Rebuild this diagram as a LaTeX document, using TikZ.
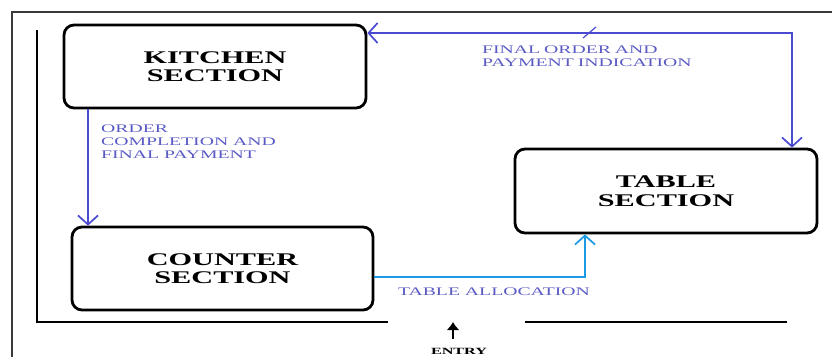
\documentclass[tikz,border=0pt]{standalone}
\usepackage{fontspec}
\setmainfont{Liberation Serif}
\newfontfamily\wideserif[FakeStretch=1.7]{Liberation Serif}
\usetikzlibrary{arrows.meta}
\definecolor{flowblue}{HTML}{4A4AD0}
\definecolor{noteblue}{HTML}{5A5AC4}
\definecolor{allocblue}{HTML}{1C9BE2}
\definecolor{framegray}{HTML}{3A3A3A}
\tikzset{
  section/.style={draw, line width=2.8pt, rounded corners=10pt, inner sep=0pt,
    align=center, font=\wideserif\bfseries\fontsize{17.8}{18.5}\selectfont},
  flow/.style={draw=flowblue, line width=1.7pt, -{Straight Barb[length=9pt,width=20pt]}},
  note/.style={text=noteblue, inner sep=0pt, align=left,
    font=\wideserif\fontsize{11.6}{13}\selectfont},
  wall/.style={line width=2.8pt, black}
}
\begin{document}
\begin{tikzpicture}[x=1pt,y=-1pt]
		\clip (0,0) rectangle (832,356);
		% outer frame and walls
		\draw[framegray, line width=1.3pt] (12,12) rectangle (860,380);
		\draw[wall] (37,30) -- (37,322) -- (388,322);
		\draw[wall] (525,322) -- (787,322);
		
		\node[section, minimum width=302pt, minimum height=83pt] (kitchen) at (215,66.5) {KITCHEN\\SECTION};
		\node[section, minimum width=301pt, minimum height=83pt] (counter) at (222.5,268.5) {COUNTER\\SECTION};
		\node[section, minimum width=302pt, minimum height=84pt] (table) at (666,191) {TABLE\\SECTION};
		
		\coordinate (kc) at (88,0);
		\coordinate (fo) at (792,33);
		\coordinate (ta) at (585,277);
		
		% kitchen to counter
		\draw[flow] (kc |- kitchen.south) -- (kc |- counter.north);
		\node[note, anchor=north west] (ordernote) at (101,124.5) {ORDER\\COMPLETION AND\\FINAL PAYMENT};
		
		% kitchen and table
		\draw[flow, {Straight Barb[length=9pt,width=20pt]}-{Straight Barb[length=9pt,width=20pt]}] (kitchen.east |- fo) -- (fo) -- (fo |- table.north);
		\draw[flowblue, line width=1.2pt] (583,38) -- (596,27);
		\node[note, anchor=north west, text width=240pt] (finalnote) at (482,46) {FINAL ORDER AND\\PAYMENT INDICATION};
		
		% counter to table
		\draw[flow, draw=allocblue] (counter.east |- ta) -- (ta) -- (ta |- table.south);
		\node[note] (allocnote) at (494,292) {TABLE ALLOCATION};
		
		% entry
		\node[inner sep=0pt, anchor=north, font=\wideserif\bfseries\fontsize{9.5}{10}\selectfont] (entry) at (459,348) {ENTRY};
		\coordinate (door) at (453,322);
		\coordinate (doorfoot) at (453,339);
		\draw[line width=2.6pt, -{Latex[length=8pt,width=13pt]}] (doorfoot) -- (door);
\end{tikzpicture}
\end{document}
